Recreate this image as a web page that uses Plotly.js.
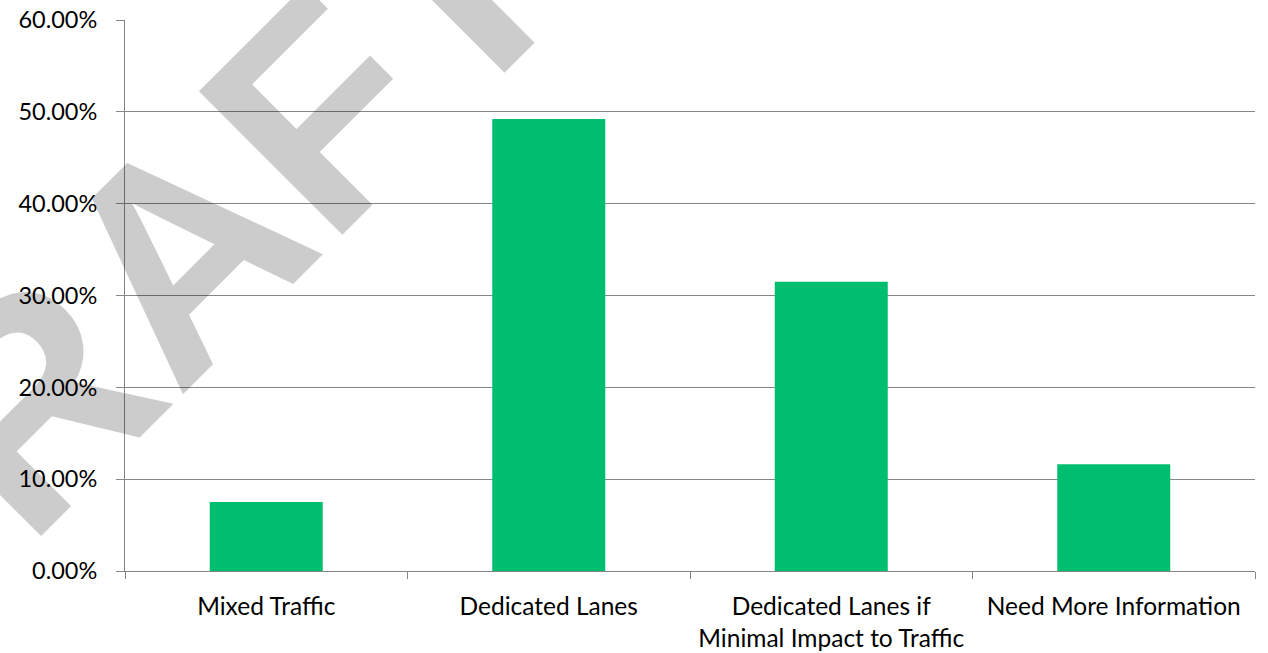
<!DOCTYPE html>
<html>
<head>
<meta charset="utf-8">
<script src="https://cdn.plot.ly/plotly-3.0.1.min.js"></script>
<style>html,body{margin:0;padding:0;background:#fff;}#chart{width:1268px;height:653px;}</style>
</head>
<body>
<div id="chart"></div>
<script>
const categories = ["Mixed Traffic", "Dedicated Lanes", "Dedicated Lanes if<br>Minimal Impact to Traffic", "Need More Information"];
const shares = [0.0752, 0.4922, 0.3149, 0.1163];
const yTickValues = [0, 0.1, 0.2, 0.3, 0.4, 0.5, 0.6];
const watermarkText = "DRAFT";

const trace = {
  type: "bar",
  x: categories,
  y: shares,
  marker: {color: "#00BE6F", line: {width: 0}},
  hoverinfo: "skip"
};

const layout = {
  width: 1268,
  height: 653,
  margin: {l: 125, r: 13, t: 20, b: 82},
  paper_bgcolor: "#ffffff",
  plot_bgcolor: "#ffffff",
  showlegend: false,
  bargap: 0.6,
  font: {family: "Lato, 'Open Sans', sans-serif", size: 22, color: "#000000"},
  xaxis: {
    type: "category",
    tickson: "boundaries",
    ticks: "outside",
    ticklen: 7,
    tickcolor: "#868686",
    tickwidth: 1,
    showline: true,
    linecolor: "#868686",
    linewidth: 1,
    showgrid: false,
    tickfont: {size: 24.5},
    ticklabelstandoff: 14,
    fixedrange: true
  },
  yaxis: {
    range: [0, 0.6],
    tickvals: yTickValues,
    tickformat: ".2%",
    ticks: "outside",
    ticklen: 8,
    tickcolor: "#868686",
    showline: true,
    linecolor: "#868686",
    linewidth: 1,
    showgrid: true,
    gridcolor: "#868686",
    gridwidth: 1,
    zeroline: false,
    tickfont: {size: 23.5},
    ticklabelstandoff: 14,
    fixedrange: true
  },
  annotations: [{
    text: watermarkText,
    xref: "paper", yref: "paper",
    x: 0.0292, y: 0.537,
    xanchor: "center", yanchor: "middle",
    showarrow: false,
    textangle: -45,
    font: {family: "'Liberation Sans', Arial, sans-serif", size: 295, weight: "bold", color: "rgba(0,0,0,0.2)"}
  }]
};

Plotly.newPlot("chart", [trace], layout, {displayModeBar: false, staticPlot: true});
</script>
</body>
</html>
